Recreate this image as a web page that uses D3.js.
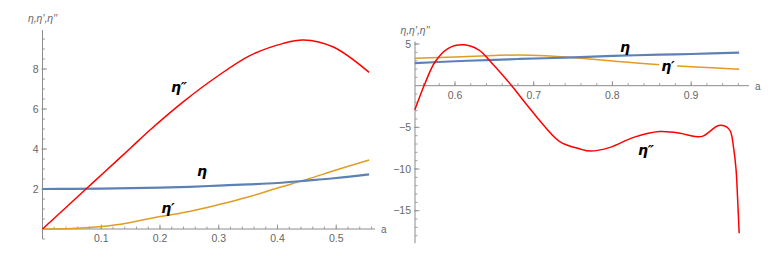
<!DOCTYPE html>
<html>
<head>
<meta charset="utf-8">
<script src="https://cdn.jsdelivr.net/npm/d3@7"></script>
<style>
  body { margin: 0; background: #fff; }
  svg { display: block; font-family: "Liberation Sans", Arial, sans-serif; }
</style>
</head>
<body>
<svg id="chart" width="782" height="258"></svg>
<script>
// left panel: a from 0 to ~0.556
const leftA = [0, 0.05, 0.1, 0.15, 0.2, 0.25, 0.3, 0.35, 0.4, 0.45, 0.5, 0.556];
const leftEta = [2.0, 2.005, 2.02, 2.04, 2.07, 2.11, 2.17, 2.23, 2.3, 2.42, 2.55, 2.73];
const leftEtaP = [0, 0.03, 0.12, 0.33, 0.62, 0.88, 1.22, 1.6, 2.05, 2.48, 2.95, 3.45];
const leftEtaPPa = [0, 0.074, 0.1, 0.15, 0.183, 0.24, 0.296, 0.353, 0.41, 0.444, 0.495, 0.556];
const leftEtaPP = [0, 2.0, 2.7, 4.05, 4.95, 6.37, 7.6, 8.67, 9.28, 9.45, 9.1, 7.83];

// right panel: a from ~0.549 to ~0.961
const rightA = [0.549, 0.6, 0.65, 0.68, 0.714, 0.759, 0.8, 0.86, 0.9, 0.961];
const rightEta = [2.7, 2.93, 3.1, 3.2, 3.29, 3.42, 3.57, 3.72, 3.8, 3.96];
const rightEtaP = [3.3, 3.45, 3.62, 3.68, 3.6, 3.3, 2.97, 2.5, 2.28, 1.97];
const rightEtaPPa = [0.549, 0.562, 0.575, 0.592, 0.611, 0.63, 0.647, 0.672, 0.693, 0.714, 0.733, 0.759,
  0.772, 0.797, 0.827, 0.86, 0.886, 0.905, 0.915, 0.925, 0.932, 0.938, 0.945, 0.95, 0.954, 0.957, 0.959, 0.961];
const rightEtaPP = [-2.9, 0.3, 2.9, 4.5, 4.9, 4.3, 2.7, 0, -2.5, -4.9, -6.7, -7.6,
  -7.85, -7.4, -6.2, -5.5, -5.7, -6.1, -6.05, -5.4, -4.9, -4.75, -4.95, -5.5, -7.5, -10, -13.5, -17.7];

const leftXTicks = [0.1, 0.2, 0.3, 0.4, 0.5];
const leftYTicks = [2, 4, 6, 8];
const rightXTicks = [0.6, 0.7, 0.8, 0.9];
const rightYTicks = [5, -5, -10, -15];

const blue = '#5E81B5', orange = '#E19C24', red = '#FF0000';
const axisColor = '#8c8c8c', labelColor = '#666';

const svg = d3.select('#chart');

function panel(cfg) {
  const x = d3.scaleLinear().domain(cfg.xDomain).range(cfg.xRange);
  const y = d3.scaleLinear().domain(cfg.yDomain).range(cfg.yRange);
  const g = svg.append('g');

  // minor ticks
  const xMinor = d3.range(Math.ceil(cfg.xDomain[0] / cfg.xMinorStep), Math.floor(cfg.xDomain[1] / cfg.xMinorStep) + 1)
    .map(i => +(i * cfg.xMinorStep).toFixed(4)).filter(v => v !== 0 && x(v) > cfg.xRange[0] + 1);
  const yMinor = d3.range(Math.ceil(cfg.yDomain[0] / cfg.yMinorStep), Math.floor(cfg.yDomain[1] / cfg.yMinorStep) + 1)
    .map(i => +(i * cfg.yMinorStep).toFixed(4)).filter(v => v !== 0);

  g.selectAll('.xminor').data(xMinor).enter().append('line')
    .attr('x1', d => x(d)).attr('x2', d => x(d))
    .attr('y1', y(0)).attr('y2', y(0) - 2.5)
    .attr('stroke', axisColor).attr('stroke-width', 0.8);
  g.selectAll('.yminor').data(yMinor).enter().append('line')
    .attr('x1', x(cfg.xDomain[0])).attr('x2', x(cfg.xDomain[0]) + 2.5)
    .attr('y1', d => y(d)).attr('y2', d => y(d))
    .attr('stroke', axisColor).attr('stroke-width', 0.8);

  g.selectAll('.xmajor').data(cfg.xTicks).enter().append('line')
    .attr('x1', d => x(d)).attr('x2', d => x(d))
    .attr('y1', y(0)).attr('y2', y(0) - 4.5)
    .attr('stroke', axisColor).attr('stroke-width', 0.9);
  g.selectAll('.ymajor').data(cfg.yTicks).enter().append('line')
    .attr('x1', x(cfg.xDomain[0]) - 1).attr('x2', x(cfg.xDomain[0]) + 4.5)
    .attr('y1', d => y(d)).attr('y2', d => y(d))
    .attr('stroke', axisColor).attr('stroke-width', 0.9);

  // axis lines
  g.append('line')
    .attr('x1', cfg.xRange[0]).attr('x2', cfg.xRange[1])
    .attr('y1', y(0)).attr('y2', y(0))
    .attr('stroke', axisColor).attr('stroke-width', 1);
  g.append('line')
    .attr('x1', x(cfg.xDomain[0])).attr('x2', x(cfg.xDomain[0]))
    .attr('y1', cfg.yRange[0]).attr('y2', cfg.yRange[1])
    .attr('stroke', axisColor).attr('stroke-width', 1);

  // tick labels
  g.selectAll('.xlab').data(cfg.xTicks).enter().append('text')
    .attr('x', d => x(d)).attr('y', y(0) + 13)
    .attr('text-anchor', 'middle').attr('font-size', 10.5).attr('fill', labelColor)
    .text(d => d3.format('.1f')(d));
  g.selectAll('.ylab').data(cfg.yTicks).enter().append('text')
    .attr('x', x(cfg.xDomain[0]) - 4).attr('y', d => y(d) + 3.8)
    .attr('text-anchor', 'end').attr('font-size', 10.5).attr('fill', labelColor)
    .text(d => d < 0 ? '\u2212' + Math.abs(d) : d);

  // axis names
  g.append('text')
    .attr('x', cfg.xRange[1] + 6).attr('y', y(0) + 4)
    .attr('font-size', 10).attr('fill', labelColor).text('a');
  g.append('text')
    .attr('x', x(cfg.xDomain[0])).attr('y', cfg.yRange[1] - 8)
    .attr('text-anchor', 'middle').attr('font-size', 10.5).attr('font-style', 'italic')
    .attr('fill', labelColor).text('\u03B7,\u03B7\u2032,\u03B7\u2032\u2032');

  const line = d3.line().curve(d3.curveCatmullRom.alpha(0.5)).x(d => x(d[0])).y(d => y(d[1]));

  cfg.series.forEach(s => {
    g.append('path')
      .attr('d', line(d3.zip(s.a, s.v)))
      .attr('fill', 'none').attr('stroke', s.color).attr('stroke-width', s.width)
      .attr('stroke-linejoin', 'round');
  });

  cfg.labels.forEach(l => {
    const t = g.append('text')
      .attr('x', l.x).attr('y', l.y)
      .attr('text-anchor', 'middle').attr('font-size', 14)
      .attr('font-style', 'italic').attr('font-weight', 'bold')
      .attr('font-family', '"DejaVu Sans", sans-serif')
      .text(l.text);
    if (l.bg) {
      const b = t.node().getBBox();
      g.insert('rect', function () { return t.node(); })
        .attr('x', b.x - 2).attr('y', b.y + 2).attr('width', b.width + 4).attr('height', b.height - 4)
        .attr('fill', '#fff');
    }
  });
}

panel({
  xDomain: [0, 0.566], xRange: [42.5, 375],
  yDomain: [-0.5, 9.95], yRange: [239, 30],
  xMinorStep: 0.02, yMinorStep: 0.5,
  xTicks: leftXTicks, yTicks: leftYTicks,
  series: [
    {a: leftA, v: leftEtaP, color: orange, width: 1.5},
    {a: leftA, v: leftEta, color: blue, width: 2.2},
    {a: leftEtaPPa, v: leftEtaPP, color: red, width: 1.5}
  ],
  labels: [
    {text: '\u03B7\u2033', x: 179, y: 92},
    {text: '\u03B7', x: 202, y: 176},
    {text: '\u03B7\u2032', x: 168, y: 213}
  ]
});

panel({
  xDomain: [0.5492, 0.9735], xRange: [415, 749],
  yDomain: [-18.9, 5.3], yRange: [243.2, 41.5],
  xMinorStep: 0.02, yMinorStep: 1,
  xTicks: rightXTicks, yTicks: rightYTicks,
  series: [
    {a: rightA, v: rightEtaP, color: orange, width: 1.5},
    {a: rightA, v: rightEta, color: blue, width: 2.2},
    {a: rightEtaPPa, v: rightEtaPP, color: red, width: 1.5}
  ],
  labels: [
    {text: '\u03B7', x: 625, y: 52},
    {text: '\u03B7\u2032', x: 668, y: 71, bg: true},
    {text: '\u03B7\u2033', x: 646, y: 155}
  ]
});
</script>
</body>
</html>
